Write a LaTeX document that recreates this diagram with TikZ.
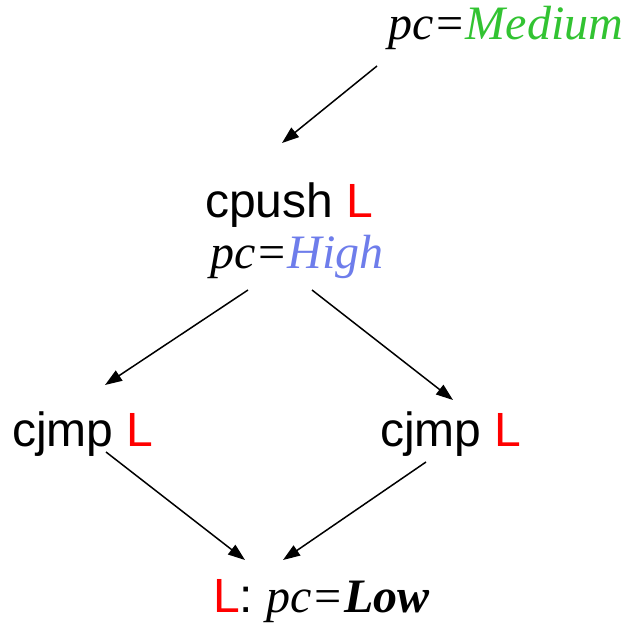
\documentclass[tikz,border=0pt]{standalone}
\usepackage{fontspec}
\setmainfont{Liberation Sans}
\newfontfamily\tms{Liberation Serif}
\usetikzlibrary{arrows.meta}
\definecolor{medgreen}{RGB}{50,195,50}
\definecolor{highblue}{RGB}{110,125,235}
\definecolor{lred}{RGB}{255,0,0}
\begin{document}
\begin{tikzpicture}[x=1pt,y=-1pt,
  lbl/.style={anchor=base west,inner sep=0pt,font=\fontsize{48}{52}\selectfont},
  conn/.style={line width=1.5pt,-{Triangle[length=17pt,width=12pt]}}]
\useasboundingbox (0,0) rectangle (627,628);
\node[lbl] (med) at (388,40) {{\tms\itshape pc=}{\tms\itshape\color{medgreen}Medium}};
\node[lbl] (cpush) at (205,217) {cpush \textcolor{lred}{L}};
\node[lbl] (high) at (210,268) {{\tms\itshape pc=}{\tms\itshape\color{highblue}High}};
\node[lbl] (cj1) at (12,446) {cjmp \textcolor{lred}{L}};
\node[lbl] (cj2) at (380,446) {cjmp \textcolor{lred}{L}};
\node[lbl] (low) at (213,612) {\textcolor{lred}{L}: {\tms\itshape pc=\bfseries Low}};
\coordinate (a1s) at (377,66);
\coordinate (a1e) at (282,143);
\coordinate (a2s) at (248,290);
\coordinate (a2e) at (105,385);
\coordinate (a3s) at (312,290);
\coordinate (a3e) at (453,400);
\coordinate (a4s) at (106,452);
\coordinate (a4e) at (245,560);
\coordinate (a5s) at (426,462);
\coordinate (a5e) at (283,560);
\draw[conn] (a1s) -- (a1e);
\draw[conn] (a2s) -- (a2e);
\draw[conn] (a3s) -- (a3e);
\draw[conn] (a4s) -- (a4e);
\draw[conn] (a5s) -- (a5e);
\end{tikzpicture}
\end{document}
